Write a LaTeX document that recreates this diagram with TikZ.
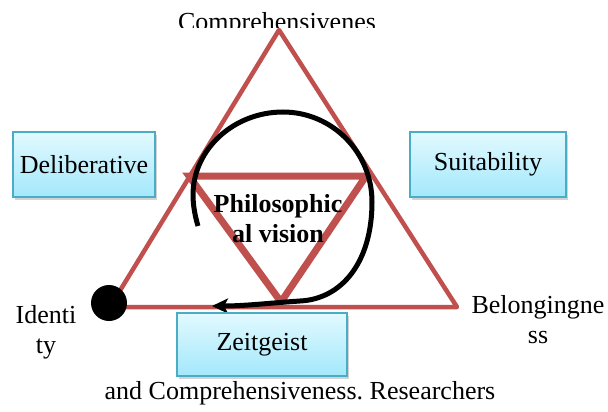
\documentclass[tikz,border=0pt]{standalone}
\usepackage{fontspec}
\setmainfont{Liberation Serif}
\usetikzlibrary{shadows,arrows.meta}
\definecolor{tri}{HTML}{C0504D}
\definecolor{boxedge}{HTML}{4BACC6}
\definecolor{boxtop}{HTML}{E2F9FF}
\definecolor{boxbot}{HTML}{A3E8FB}
\frenchspacing
\tikzset{
  lbl/.style={font=\fontsize{26}{30}\selectfont, inner sep=0pt, align=center},
  bx/.style={lbl, draw=boxedge, line width=1.8pt, top color=boxtop, bottom color=boxbot,
    drop shadow={shadow xshift=2pt, shadow yshift=-3pt, opacity=0.35}},
  outer/.style={draw=tri, line width=4.5pt, line join=round},
  inner/.style={draw=tri, line width=7pt, line join=miter},
  loop/.style={draw=black, line width=5pt, -{Stealth[length=16pt,width=15pt,inset=4pt]}}
}
\begin{document}
\begin{tikzpicture}[x=1pt,y=-1pt]
\useasboundingbox (0,0) rectangle (608,412);
% triangles
\coordinate (A) at (279,30);
\coordinate (BL) at (110,307);
\coordinate (BR) at (457,307);
\coordinate (I1) at (189,176);
\coordinate (I2) at (366,176);
\coordinate (I3) at (281,302);
\draw[outer] (A) -- (BL) -- (BR) -- cycle;
\draw[inner] (I1) -- (I2) -- (I3) -- cycle;
% loop arrow
\coordinate (S) at (198,226);
\coordinate (L) at (193,195);
\coordinate (T) at (283,112);
\coordinate (R) at (372,202);
\coordinate (B) at (300,301);
\coordinate (E) at (212,306);
\draw[loop] (S) .. controls (195,216) and (193,205) .. (L)
  .. controls (193,149) and (234,112) .. (T)
  .. controls (332,112) and (372,152) .. (R)
  .. controls (372,262) and (342,299) .. (B)
  .. controls (270,303) and (245,306) .. (E);
% dot
\fill[black] (109,303) circle[radius=18];
% boxes
\node[bx, minimum width=142pt, minimum height=65pt] (delib) at (84,164.5) {Deliberative};
\node[bx, minimum width=156pt, minimum height=65pt] (suit) at (488,164.5) {Suitability};
\node[bx, minimum width=170pt, minimum height=63pt] (zeit) at (262,344.5) {Zeitgeist};
% texts
\begin{scope}
\clip (0,0) rectangle (608,28);
\node[lbl, anchor=base] (comp) at (277,30.5) {Comprehensivenes};
\end{scope}
\node[lbl, anchor=base, font=\fontsize{26}{30}\selectfont\bfseries] (phil) at (278,242) {Philosophic\\al vision};
\node[lbl, anchor=base] (ident) at (46,353) {Identi\\ty};
\node[lbl, anchor=base] (belong) at (538,343) {Belongingne\\ss};
\node[lbl, anchor=base] (bottom) at (300,399) {and Comprehensiveness. Researchers};
\end{tikzpicture}
\end{document}
